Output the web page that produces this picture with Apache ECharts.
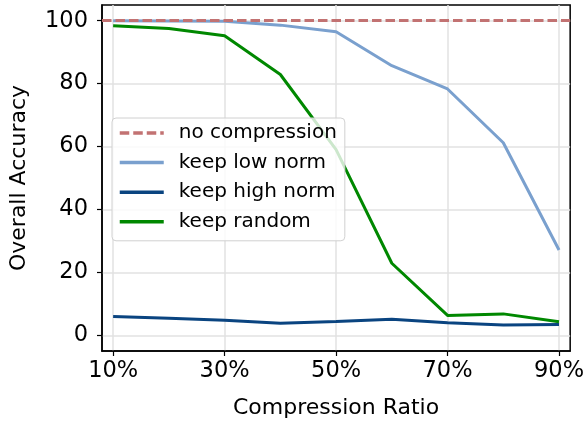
<!DOCTYPE html>
<html>
<head>
<meta charset="utf-8">
<script src="https://cdn.jsdelivr.net/npm/echarts@6/dist/echarts.min.js"></script>
<style>
  html, body { margin: 0; padding: 0; background: #fff; }
  #chart { width: 587px; height: 424px; }
</style>
</head>
<body>
<div id="chart"></div>
<script>
// compression ratio (%)
var ratios = [10, 20, 30, 40, 50, 60, 70, 80, 90];
var xTicks = [10, 30, 50, 70, 90];
var yTicks = [0, 20, 40, 60, 80, 100];

var baseline = 100;
var keepLowNorm = [100, 99.9, 99.8, 98.6, 96.5, 85.7, 78.3, 61.2, 27.1];
var keepHighNorm = [6.0, 5.4, 4.8, 3.8, 4.4, 5.1, 4.0, 3.3, 3.4];
var keepRandom = [98.4, 97.5, 95.2, 82.9, 59.0, 22.9, 6.3, 6.8, 4.3];

var font = 'DejaVu Sans';

function pairs(vals) {
  return ratios.map(function (r, i) { return [r, vals[i]]; });
}

var chart = echarts.init(document.getElementById('chart'));

var option = {
  animation: false,
  grid: {
    left: 101, right: 16, top: 5, bottom: 72,
    show: true,
    borderColor: '#000',
    borderWidth: 1.5,
    backgroundColor: 'transparent'
  },
  legend: {
    orient: 'vertical',
    left: 112,
    top: 118,
    padding: [4, 8, 8, 6],
    itemWidth: 44,
    itemHeight: 22,
    itemGap: 7.6,
    backgroundColor: 'rgba(255,255,255,0.8)',
    borderColor: '#d0d0d0',
    borderWidth: 1,
    borderRadius: 4,
    itemStyle: { opacity: 0 },
    lineStyle: { width: 3.5 },
    textStyle: { fontFamily: font, fontSize: 20, color: '#000', padding: [0, 0, 0, 10], lineHeight: 22 },
    data: ['no compression', 'keep low norm', 'keep high norm', 'keep random']
  },
  xAxis: {
    type: 'value',
    min: 8,
    max: 92,
    name: 'Compression Ratio',
    nameLocation: 'middle',
    nameGap: 46,
    nameTextStyle: { fontFamily: font, fontSize: 22, color: '#000' },
    axisLine: { show: true, onZero: false, lineStyle: { color: '#000', width: 1.5 } },
    axisTick: { show: true, length: 5, customValues: xTicks, lineStyle: { color: '#000', width: 1.2 } },
    axisLabel: {
      customValues: xTicks,
      margin: 9,
      fontFamily: font, fontSize: 22.5, color: '#000',
      formatter: function (v) { return v + '%'; }
    },
    splitLine: { show: true, lineStyle: { color: '#e2e2e2', width: 1.5 } }
  },
  yAxis: {
    type: 'value',
    min: -5,
    max: 105,
    name: 'Overall Accuracy',
    nameLocation: 'middle',
    nameRotate: 90,
    nameGap: 72,
    nameTextStyle: { fontFamily: font, fontSize: 22, color: '#000' },
    axisLine: { show: true, lineStyle: { color: '#000', width: 1.5 } },
    axisTick: { show: true, length: 5, customValues: yTicks, lineStyle: { color: '#000', width: 1.2 } },
    axisLabel: {
      customValues: yTicks,
      margin: 14,
      fontFamily: font, fontSize: 22.5, color: '#000'
    },
    splitLine: { show: true, lineStyle: { color: '#e2e2e2', width: 1.5 } }
  },
  series: [
    {
      name: 'no compression',
      type: 'line',
      data: [],
      symbol: 'none',
      color: '#c27272',
      lineStyle: { color: '#c27272', width: 3, type: [9.5, 4] },
      markLine: {
        silent: true,
        symbol: 'none',
        label: { show: false },
        lineStyle: { color: '#c27272', width: 3, type: [9.5, 4] },
        data: [{ yAxis: baseline }]
      }
    },
    {
      name: 'keep low norm',
      type: 'line',
      data: pairs(keepLowNorm),
      symbol: 'none',
      color: '#7aa0ce',
      lineStyle: { color: '#7aa0ce', width: 3 }
    },
    {
      name: 'keep high norm',
      type: 'line',
      data: pairs(keepHighNorm),
      symbol: 'none',
      color: '#0a4480',
      lineStyle: { color: '#0a4480', width: 3 }
    },
    {
      name: 'keep random',
      type: 'line',
      data: pairs(keepRandom),
      symbol: 'none',
      color: '#008800',
      lineStyle: { color: '#008800', width: 3 }
    }
  ]
};

chart.setOption(option);
</script>
</body>
</html>
